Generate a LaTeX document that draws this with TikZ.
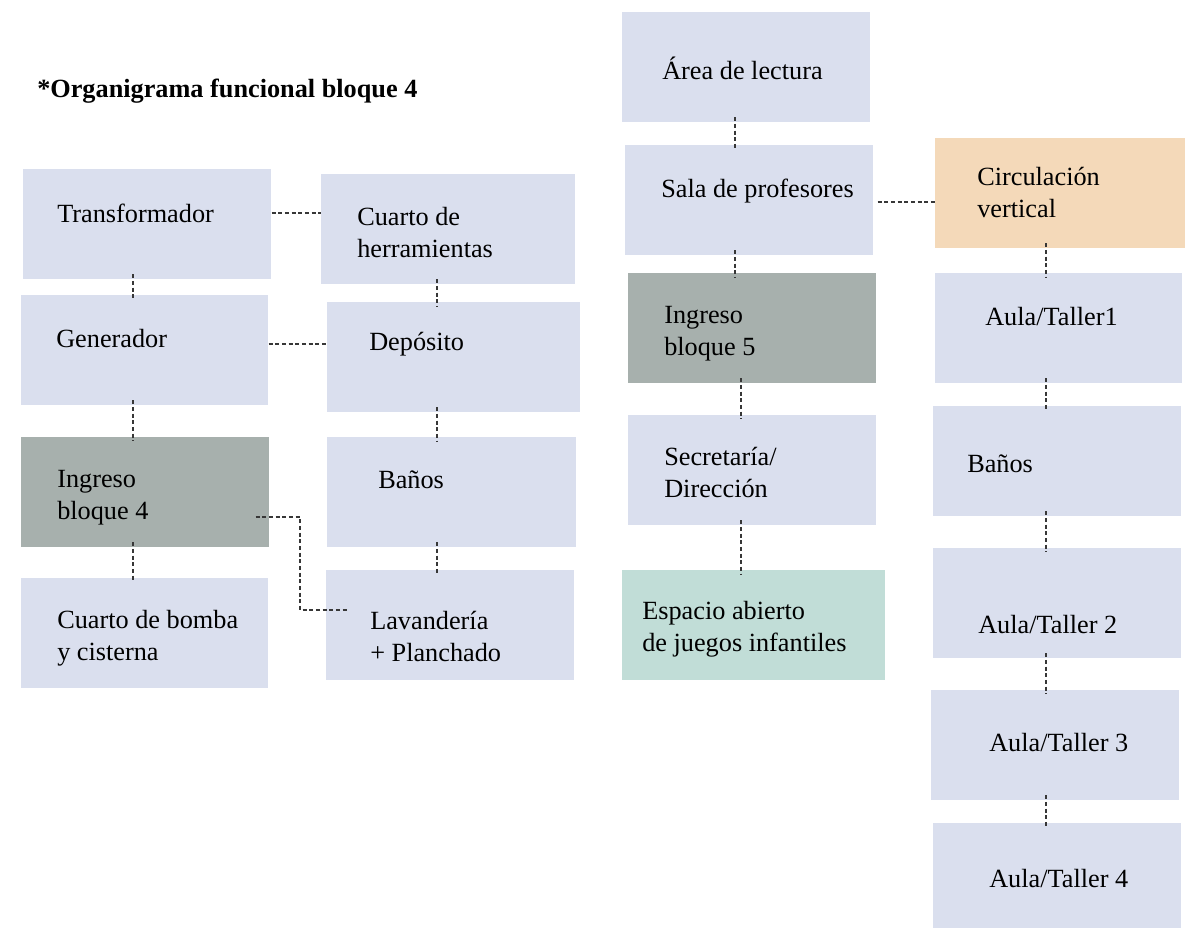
\documentclass[tikz,border=0pt]{standalone}
\usepackage{fontspec}
\setmainfont{Liberation Serif}
\usepackage{xcolor}
\definecolor{roomLilac}{RGB}{218, 223, 238}
\definecolor{roomGray}{RGB}{167, 176, 173}
\definecolor{roomTeal}{RGB}{193, 221, 215}
\definecolor{roomSand}{RGB}{244, 217, 185}
\definecolor{linkGray}{RGB}{55, 55, 55}

\begin{document}
\begin{tikzpicture}[x=0.75pt, y=-0.75pt,
    room/.style={fill=roomLilac, anchor=north west, inner sep=0pt,
        minimum width=186pt, minimum height=82.5pt},
    wd/.style={minimum width=#1*0.75pt},
    roomtext/.style={anchor=base west, align=left, inner sep=0pt,
        font=\fontsize{19.7}{23.3}\selectfont},
    link/.style={dash pattern=on 3pt off 2pt, line width=0.9pt, linkGray},
    vlink/.style={link, shorten <=-4pt, shorten >=-3pt}]

            \useasboundingbox (0,0) rectangle (1185,928);

            % Title
            \node[roomtext, font=\fontsize{19.7}{23.3}\selectfont\bfseries] (title) at (37,97) {*Organigrama funcional bloque 4};

            % Rooms, bloque 4
            \node[room, wd=248] (trafo) at (23,169) {};
            \node[room, wd=254] (herr) at (321,174) {};
            \node[room, wd=247] (gen) at (21,295) {};
            \node[room, wd=253] (depo) at (327,302) {};
            \node[room, wd=248, fill=roomGray] (ing4) at (21,437) {};
            \node[room, wd=249] (banos) at (327,437) {};
            \node[room, wd=247] (bomba) at (21,578) {};
            \node[room, wd=248] (lava) at (326,570) {};

            % Rooms, bloque 5
            \node[room, wd=248] (lectura) at (622,12) {};
            \node[room, wd=248] (sala) at (625,145) {};
            \node[room, wd=248, fill=roomGray] (ing5) at (628,273) {};
            \node[room, wd=248] (secre) at (628,415) {};
            \node[room, wd=263, fill=roomTeal] (juegos) at (622,570) {};
            \node[room, wd=250, fill=roomSand] (circ) at (935,138) {};
            \node[room, wd=247] (aula1) at (935,273) {};
            \node[room, wd=248] (banos2) at (933,406) {};
            \node[room, wd=248] (aula2) at (933,548) {};
            \node[room, wd=248] (aula3) at (931,690) {};
            \node[room, wd=248] (aula4) at (933,823) {};

            % Texts (two-line texts sit on the baseline of their last line)
            \node[roomtext] (trafo-t) at (57,222) {Transformador};
            \node[roomtext] (herr-t) at (357,257) {Cuarto de\\herramientas};
            \node[roomtext] (gen-t) at (56,347) {Generador};
            \node[roomtext] (depo-t) at (369,350) {Depósito};
            \node[roomtext] (ing4-t) at (57,519) {Ingreso\\bloque 4};
            \node[roomtext] (banos-t) at (378,488) {Baños};
            \node[roomtext] (bomba-t) at (57,660) {Cuarto de bomba\\y cisterna};
            \node[roomtext] (lava-t) at (370,661) {Lavandería\\+ Planchado};
            \node[roomtext] (lectura-t) at (662,79) {Área de lectura};
            \node[roomtext] (sala-t) at (661,197) {Sala de profesores};
            \node[roomtext] (ing5-t) at (664,355) {Ingreso\\bloque 5};
            \node[roomtext] (secre-t) at (664,497) {Secretaría/\\Dirección};
            \node[roomtext] (juegos-t) at (642,651) {Espacio abierto\\de juegos infantiles};
            \node[roomtext] (circ-t) at (977,217) {Circulación\\vertical};
            \node[roomtext] (aula1-t) at (985,325) {Aula/Taller1};
            \node[roomtext] (banos2-t) at (967,472) {Baños};
            \node[roomtext] (aula2-t) at (978,633) {Aula/Taller 2};
            \node[roomtext] (aula3-t) at (989,751) {Aula/Taller 3};
            \node[roomtext] (aula4-t) at (989,887) {Aula/Taller 4};

            % Columns and rows of the links
            \coordinate (colA) at (133,0);
            \coordinate (colB) at (437,0);
            \coordinate (colC) at (735,0);
            \coordinate (colD) at (741,0);
            \coordinate (colE) at (1046,0);
            \coordinate (rowA) at (0,213);
            \coordinate (rowB) at (0,344);
            \coordinate (rowC) at (0,202);
            \coordinate (bendTop) at (300,517);
            \coordinate (bendLow) at (300,610);

            % Vertical links
            \draw[vlink] (trafo.south -| colA) -- (gen.north -| colA);
            \draw[vlink] (gen.south -| colA) -- (ing4.north -| colA);
            \draw[vlink] (ing4.south -| colA) -- (bomba.north -| colA);
            \draw[vlink] (herr.south -| colB) -- (depo.north -| colB);
            \draw[vlink] (depo.south -| colB) -- (banos.north -| colB);
            \draw[vlink] (banos.south -| colB) -- (lava.north -| colB);
            \draw[vlink] (lectura.south -| colC) -- (sala.north -| colC);
            \draw[vlink] (sala.south -| colC) -- (ing5.north -| colC);
            \draw[vlink] (ing5.south -| colD) -- (secre.north -| colD);
            \draw[vlink] (secre.south -| colD) -- (juegos.north -| colD);
            \draw[vlink] (circ.south -| colE) -- (aula1.north -| colE);
            \draw[vlink] (aula1.south -| colE) -- (banos2.north -| colE);
            \draw[vlink] (banos2.south -| colE) -- (aula2.north -| colE);
            \draw[vlink] (aula2.south -| colE) -- (aula3.north -| colE);
            \draw[vlink] (aula3.south -| colE) -- (aula4.north -| colE);

            % Horizontal links
            \draw[link] (trafo.east |- rowA) -- (herr.west |- rowA);
            \draw[link] (gen.east |- rowB) -- (depo.west |- rowB);
            \draw[link, shorten <=3pt] (sala.east |- rowC) -- (circ.west |- rowC);
            \draw[link, shorten <=-10.5pt, shorten >=-16.5pt] (ing4.east |- bendTop) -- (bendTop) -- (bendLow) -- (lava.west |- bendLow);
        \end{tikzpicture}
\end{document}
